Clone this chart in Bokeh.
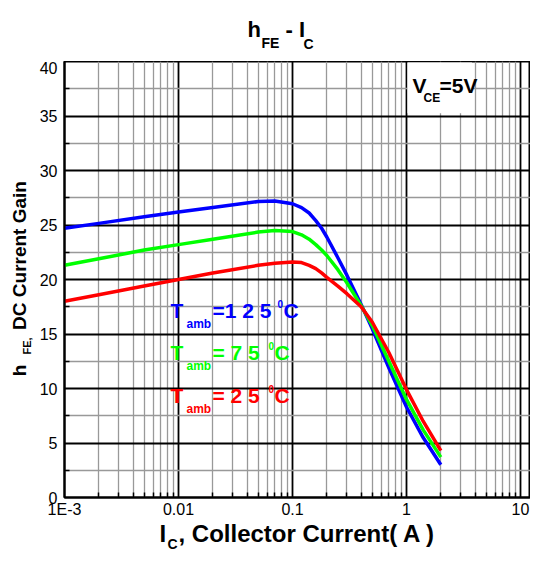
import math
from bokeh.plotting import figure
from bokeh.layouts import column, row
from bokeh.models import FixedTicker, Label, BoxAnnotation, Range1d
from bokeh.embed import file_html
from bokeh.resources import INLINE

# ---- data ----
ic = [0.001, 0.002, 0.005, 0.01, 0.02, 0.05, 0.07, 0.1, 0.12, 0.14, 0.16,
      0.18, 0.2, 0.25, 0.3, 0.4, 0.5, 0.7, 1.0, 1.4, 2.0]
hfe_125 = [24.7, 25.15, 25.75, 26.2, 26.6, 27.15, 27.2, 26.95, 26.6, 26.1, 25.4,
           24.7, 23.9, 22.0, 20.4, 17.7, 15.5, 11.9, 8.3, 5.5, 3.0]
hfe_75 = [21.3, 21.9, 22.7, 23.2, 23.7, 24.35, 24.5, 24.4, 24.1, 23.7, 23.2,
          22.7, 22.2, 20.9, 19.7, 17.6, 15.8, 12.5, 9.0, 6.2, 3.7]
hfe_25 = [18.0, 18.6, 19.4, 20.0, 20.6, 21.3, 21.5, 21.6, 21.55, 21.3, 21.0,
          20.6, 20.2, 19.4, 18.7, 17.5, 16.1, 13.3, 9.9, 7.0, 4.3]

x_ticks = [0.001, 0.01, 0.1, 1, 10]
x_tick_labels = ["1E-3", "0.01", "0.1", "1", "10"]
y_ticks = [0, 5, 10, 15, 20, 25, 30, 35, 40]
y_minor = [2.5, 7.5, 12.5, 17.5, 22.5, 27.5, 32.5, 37.5]
x_minor = [k * 10.0 ** d for d in range(-3, 2) for k in range(2, 10)]

BLUE = "#0000FF"
GREEN = "#00FF00"
RED = "#FF0000"
FONT = "Liberation Sans"

# ---- main plot: frame at page x 64..530, y 61..498 ----
p = figure(width=496, height=459, x_axis_type="log",
           x_range=Range1d(0.001, 12.24), y_range=Range1d(0, 40),
           output_backend="svg", toolbar_location=None,
           min_border_left=30, min_border_right=0,
           min_border_top=0, min_border_bottom=22)
p.background_fill_color = "white"
p.border_fill_color = "white"
p.outline_line_color = "black"
p.outline_line_width = 2

xt = FixedTicker(ticks=x_ticks, minor_ticks=x_minor)
yt = FixedTicker(ticks=y_ticks, minor_ticks=y_minor)
p.xaxis.ticker = xt
p.yaxis.ticker = yt
p.xgrid.ticker = xt
p.ygrid.ticker = yt
for g in (p.xgrid, p.ygrid):
    g.grid_line_color = "black"
    g.grid_line_width = 1.8
    g.minor_grid_line_color = "#999999"
    g.minor_grid_line_width = 1.3

p.xaxis.major_label_overrides = {t: s for t, s in zip(x_ticks, x_tick_labels)}
for ax in (p.xaxis, p.yaxis):
    ax.axis_line_color = "black"
    ax.axis_line_width = 2
    ax.major_tick_in = 0
    ax.major_tick_out = 0
    ax.minor_tick_in = 5
    ax.minor_tick_out = 0
    ax.minor_tick_line_color = "black"
    ax.minor_tick_line_width = 1.5
    ax.major_label_text_font = FONT
    ax.major_label_text_font_size = "16px"
    ax.major_label_text_color = "black"
p.xaxis.major_label_standoff = 3
p.yaxis.major_label_standoff = 7

for ys, col in ((hfe_125, BLUE), (hfe_75, GREEN), (hfe_25, RED)):
    p.line(ic, ys, line_color=col, line_width=3.5, line_join="round")

# white box behind V_CE label
p.add_layout(BoxAnnotation(left=1.02, right=3.75, bottom=35.25, top=39.9,
                           fill_color="white", fill_alpha=1.0,
                           line_color=None, level="underlay"))


def blank(w, h):
    f = figure(width=w, height=h, x_range=Range1d(0, 1), y_range=Range1d(0, 1),
               output_backend="svg", toolbar_location=None, min_border=0)
    f.axis.visible = False
    f.grid.visible = False
    f.outline_line_color = None
    f.background_fill_color = "white"
    f.border_fill_color = "white"
    return f


def lab(fig, ox, oy, text, px, py, size, color="black"):
    # left edge px, baseline py (page px); ox, oy: page pos of frame bottom-left
    mid = py - 0.35 * size
    fig.add_layout(Label(x=px - ox, y=oy - mid, x_units="screen", y_units="screen",
                         text=text, text_font=FONT, text_font_size=f"{size}px",
                         text_font_style="bold", text_color=color,
                         text_align="left", text_baseline="middle"))


def vlab(fig, ox, oy, text, cx, cy, size):
    # rotated text centred at page (cx, cy)
    fig.add_layout(Label(x=cx - ox, y=oy - cy, x_units="screen", y_units="screen",
                         text=text, text_font=FONT, text_font_size=f"{size}px",
                         text_font_style="bold", text_color="black",
                         text_align="center", text_baseline="middle",
                         angle=math.pi / 2))


top = blank(530, 61)
left = blank(34, 459)
bottom = blank(530, 56)

# title  h_FE - I_C
lab(top, 0, 61, "h", 247, 37, 22)
lab(top, 0, 61, "FE", 261, 47.5, 14)
lab(top, 0, 61, "- I", 285, 37, 22)
lab(top, 0, 61, "C", 303, 48, 14)

# y axis title (left figure's frame is aligned with the main frame: bottom at 498)
vlab(left, 0, 498, "h", 18.5, 371, 19)
vlab(left, 0, 498, "FE,", 26.5, 346.5, 11)
vlab(left, 0, 498, "DC Current Gain", 18.5, 256, 19)

# x axis title
lab(bottom, 0, 576, "I", 159, 541, 24)
lab(bottom, 0, 576, "C", 167, 548, 14)
lab(bottom, 0, 576, ", Collector Current( A )", 178, 541, 24)

# V_CE = 5V
lab(p, 64, 498, "V", 412, 93, 21)
lab(p, 64, 498, "CE", 423, 103, 12)
lab(p, 64, 498, "=5V", 439, 93, 21)

# temperature legends
for col, py, num, dx in ((BLUE, 318, "=1 2 5", 277), (GREEN, 360, "= 7 5", 268), (RED, 403, "= 2 5", 268)):
    lab(p, 64, 498, "T", 170, py, 21, col)
    lab(p, 64, 498, "amb", 186, py + 11, 12, col)
    lab(p, 64, 498, num, 212, py, 21, col)
    lab(p, 64, 498, "0", dx, py - 10, 10, col)
    lab(p, 64, 498, "C", dx + 6, py, 21, col)

layout = column(top, row(left, p, spacing=0), bottom, spacing=0)
open("out.html", "w").write(file_html(layout, INLINE))
